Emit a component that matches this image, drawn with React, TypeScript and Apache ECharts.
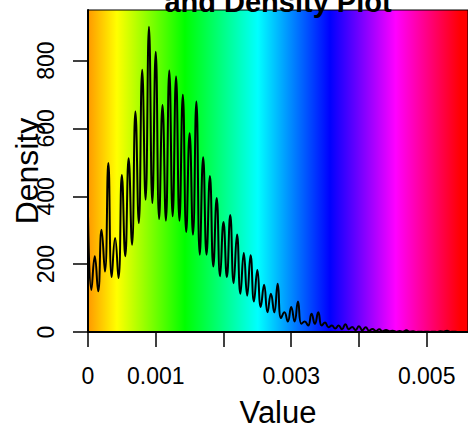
import React, { useEffect, useRef } from "react";
import * as echarts from "echarts";

// Density sampled at peaks (k * STEP) and troughs ((k + 0.5) * STEP)
const STEP = 0.0001;
const peakValues = [
  345, 223, 301, 498, 277, 463, 512, 650, 773, 900, 826, 669, 771, 753, 699,
  586, 679, 515, 460, 395, 324, 345, 287, 233, 226, 183, 139, 113, 142, 58, 74,
  90, 31, 54, 58, 28, 19, 19, 23, 15, 17, 14, 9, 8, 6, 4, 3, 5, 2, 1, 1, 1, 2,
  4, 1, 0,
];
const troughValues = [
  124, 120, 178, 162, 159, 223, 257, 321, 390, 380, 333, 328, 341, 328, 295,
  287, 228, 228, 193, 164, 162, 144, 113, 107, 90, 74, 58, 58, 41, 31, 31, 24,
  19, 24, 19, 14, 10, 8, 8, 6, 5, 4, 3, 2, 2, 1, 1, 1, 0, 0, 0, 0, 1, 0, 0,
];
const xTickValues = [0, 0.001, 0.002, 0.003, 0.004, 0.005];
const xLabelValues = [0, 0.001, 0.003, 0.005];
const yTickValues = [0, 200, 400, 600, 800];

const FONT = "'Liberation Sans', Arial, Helvetica, sans-serif";

export default function App() {
  const ref = useRef<HTMLDivElement>(null);
  useEffect(() => {
    if (!ref.current) return;
    const chart = echarts.init(ref.current, undefined, { renderer: "svg" });
    const data: number[][] = [];
    for (let k = 0; k < peakValues.length; k++) {
      data.push([k * STEP, peakValues[k]]);
      if (k < troughValues.length) data.push([(k + 0.5) * STEP, troughValues[k]]);
    }
    const gradient = new echarts.graphic.LinearGradient(0, 0, 1, 0, [
      { offset: 0, color: "hsl(36,100%,50%)" },
      { offset: 0.076, color: "hsl(60,100%,50%)" },
      { offset: 0.255, color: "hsl(120,100%,50%)" },
      { offset: 0.447, color: "hsl(180,100%,50%)" },
      { offset: 0.637, color: "hsl(240,100%,50%)" },
      { offset: 0.81, color: "hsl(300,100%,50%)" },
      { offset: 0.98, color: "hsl(360,100%,50%)" },
      { offset: 1, color: "hsl(360,100%,50%)" },
    ]);
    chart.setOption({
      animation: false,
      backgroundColor: "#ffffff",
      textStyle: { fontFamily: FONT },
      grid: {
        left: 88,
        right: 0,
        top: 10,
        bottom: 104,
        containLabel: false,
        outerBoundsMode: "none",
        show: true,
        backgroundColor: gradient,
        borderColor: "#000",
        borderWidth: 1,
      },
      graphic: [
        {
          type: "text",
          x: 278,
          y: 2,
          style: {
            text: "and Density Plot",
            fontFamily: FONT,
            fontSize: 29,
            fontWeight: "bold",
            fill: "#000",
            align: "center",
            verticalAlign: "middle",
          },
        },
      ],
      xAxis: {
        type: "value",
        min: 0,
        max: 0.00561,
        name: "Value",
        nameLocation: "middle",
        nameGap: 65,
        nameMoveOverlap: false,
        nameTextStyle: { fontSize: 31, color: "#000", fontFamily: FONT },
        splitLine: { show: false },
        axisLine: { show: true, onZero: false, lineStyle: { color: "#000", width: 2 } },
        axisTick: {
          show: true,
          length: 15,
          customValues: xTickValues,
          lineStyle: { color: "#000", width: 1.5 },
        },
        axisLabel: {
          customValues: xLabelValues,
          margin: 32,
          fontSize: 23,
          color: "#000",
          fontFamily: FONT,
          formatter: (v: number) => (v === 0 ? "0" : v.toFixed(3)),
        },
      },
      yAxis: {
        type: "value",
        min: 0,
        max: 949,
        name: "Density",
        nameLocation: "middle",
        nameGap: 45,
        nameMoveOverlap: false,
        nameRotate: 90,
        nameTextStyle: { fontSize: 32, color: "#000", fontFamily: FONT },
        splitLine: { show: false },
        axisLine: { show: true, onZero: false, lineStyle: { color: "#000", width: 2 } },
        axisTick: {
          show: true,
          length: 15,
          customValues: yTickValues,
          lineStyle: { color: "#000", width: 1.5 },
        },
        axisLabel: {
          customValues: yTickValues,
          rotate: 90,
          margin: 31,
          fontSize: 23,
          color: "#000",
          fontFamily: FONT,
        },
      },
      series: [
        {
          type: "line",
          data,
          smooth: 0.5,
          showSymbol: false,
          symbol: "none",
          lineStyle: { color: "#000", width: 2 },
          clip: true,
        },
      ],
    });
    return () => chart.dispose();
  }, []);
  return (
    <div
      ref={ref}
      style={{ position: "fixed", left: 0, top: 0, width: 468, height: 436 }}
    />
  );
}
